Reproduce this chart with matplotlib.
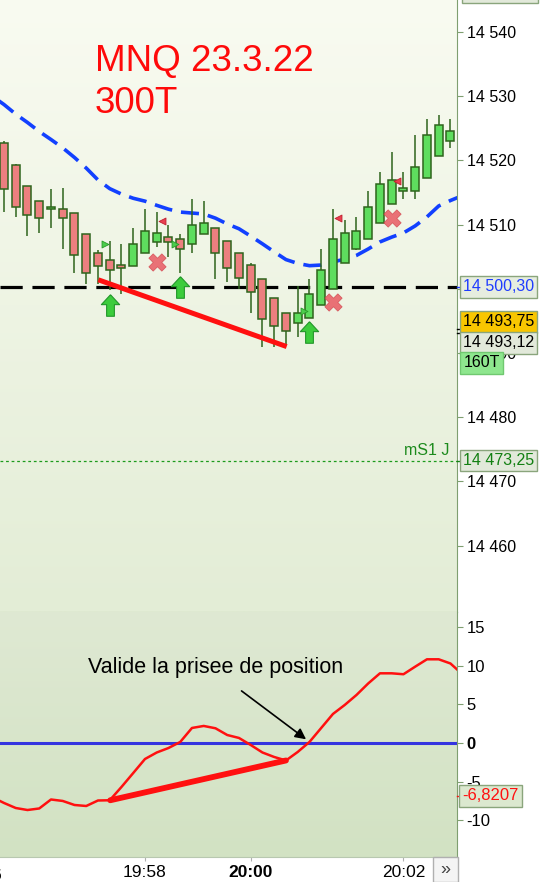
import numpy as np
import matplotlib
matplotlib.use("Agg")
import matplotlib.pyplot as plt
from matplotlib.colors import LinearSegmentedColormap
from matplotlib.path import Path
from matplotlib.patches import Rectangle

plt.rcParams['font.family'] = ['Liberation Sans', 'DejaVu Sans']
plt.rcParams['lines.scale_dashes'] = False

# candles (300 ticks)
opens = [14522.75, 14519.25, 14516.0, 14513.75, 14512.5, 14512.5, 14511.75, 14508.5, 14505.5, 14504.5,
         14503.75, 14503.5, 14505.5, 14507.25, 14508.0, 14507.75, 14507.0, 14508.5, 14509.5, 14507.5,
         14505.5, 14503.75, 14501.5, 14498.5, 14496.25, 14494.75, 14495.5, 14497.5, 14500.0, 14504.0,
         14506.25, 14507.75, 14510.25, 14513.25, 14515.25, 14515.25, 14517.25, 14520.75, 14523.0]
highs = [14523.0, 14519.5, 14516.0, 14513.75, 14515.5, 14515.75, 14511.75, 14508.5, 14506.0, 14507.5,
         14507.0, 14509.5, 14512.5, 14512.0, 14510.0, 14508.5, 14514.0, 14513.75, 14509.5, 14507.5,
         14505.5, 14504.0, 14501.5, 14498.5, 14496.25, 14500.5, 14501.5, 14506.25, 14512.5, 14510.75,
         14511.25, 14515.25, 14518.25, 14521.25, 14518.25, 14524.0, 14526.5, 14527.0, 14526.5]
lows = [14512.0, 14511.25, 14508.25, 14508.75, 14509.5, 14506.25, 14502.5, 14500.75, 14500.75, 14499.75,
        14499.25, 14503.5, 14505.5, 14506.5, 14505.0, 14502.5, 14505.5, 14508.5, 14501.5, 14501.0,
        14500.0, 14496.25, 14491.0, 14491.0, 14491.25, 14492.5, 14495.5, 14497.5, 14500.0, 14504.0,
        14506.0, 14507.75, 14510.25, 14513.25, 14514.0, 14514.0, 14517.25, 14520.75, 14522.0]
closes = [14515.5, 14512.75, 14511.5, 14511.0, 14512.75, 14511.0, 14505.25, 14502.5, 14503.5, 14503.0,
          14503.25, 14507.0, 14509.0, 14508.75, 14507.25, 14506.25, 14510.0, 14510.25, 14505.5, 14503.25,
          14501.75, 14499.5, 14495.25, 14494.25, 14493.5, 14496.25, 14499.25, 14503.0, 14507.75, 14508.75,
          14509.0, 14512.75, 14516.25, 14517.0, 14515.75, 14519.0, 14524.0, 14525.5, 14524.5]

# moving average, one value per candle plus one on each side
ma_idx = list(range(-1, 40))
ma = [14530.0, 14528.7, 14527.2, 14525.9, 14524.5, 14523.25, 14521.95, 14520.45, 14518.8, 14516.95,
      14515.6, 14514.75, 14514.1, 14513.65, 14513.0, 14512.4, 14511.95, 14511.8, 14511.65, 14511.0,
      14510.1, 14509.35, 14508.2, 14507.0, 14505.75, 14504.55, 14503.95, 14503.6, 14503.7, 14504.2,
      14504.6, 14505.2, 14506.2, 14507.3, 14508.05, 14508.7, 14509.8, 14511.2, 14512.9, 14513.75, 14514.5]

# oscillator
osc = [-7.0, -7.75, -8.4, -8.66, -8.46, -7.3, -7.49, -8.01, -8.14, -7.43, -7.4, -5.68, -3.88, -2.07,
       -1.23, -0.65, 0.13, 1.94, 2.2, 1.9, 1.03, 0.65, -0.26, -1.23, -1.81, -2.26, -1.16, 0.13, 1.94,
       3.75, 4.91, 6.2, 7.69, 9.0, 9.0, 8.88, 9.86, 10.81, 10.81, 10.27, 8.9]

# signals
up_idx = [9, 15, 26]
up_price = [14497.5, 14500.25, 14493.25]
cross_idx = [13, 28, 33]
cross_price = [14504.25, 14498.0, 14511.0]
gtri_idx = [8.6, 14.55, 25.55]
gtri_price = [14507.0, 14507.0, 14496.5]
rtri_idx = [13.45, 28.43, 33.42]
rtri_price = [14510.5, 14511.0, 14516.75]

div_price_x = [8.03, 24.06]
div_price_y = [14501.4, 14491.0]
div_osc_x = [9.04, 24.0]
div_osc_y = [-7.4, -2.26]

pivot_level = 14500.30
ms1_level = 14473.25
last_a = 14493.75
last_b = 14493.12
osc_last = -6.8207

price_ticks = [14460, 14470, 14480, 14490, 14500, 14510, 14520, 14530, 14540]
osc_ticks = [-10, -5, 0, 5, 10, 15]
time_pos = [12, 21, 34]
time_labels = ["19:58", "20:00", "20:02"]

axis_col = "#7f9f70"
edge_col = "#2e641c"

fig = plt.figure(figsize=(5.4, 8.82), dpi=100)
fig.patch.set_facecolor("white")
ax1 = fig.add_axes([0, 0.30612, 0.84722, 0.69388])
ax2 = fig.add_axes([0, 0.02834, 0.84722, 0.27778])

xlim = (-0.34, 38.6)


def gradient(ax, top, bottom):
    cmap = LinearSegmentedColormap.from_list("g", [top, bottom])
    ax.imshow(np.linspace(0, 1, 256).reshape(-1, 1), cmap=cmap, extent=[0, 1, 0, 1],
              transform=ax.transAxes, aspect='auto', zorder=0)


gradient(ax1, "#f9fbf1", "#e3edd6")
gradient(ax2, "#dfe9d3", "#d2e2c3")

# ---- price panel
n = len(opens)
idx = np.arange(n)
o = np.array(opens); c = np.array(closes)
bottoms = np.minimum(o, c)
heights = np.maximum(np.abs(c - o), 0.15)
cols = ["#5edd5e" if cc >= oo else "#ec7f7f" for oo, cc in zip(o, c)]
ax1.vlines(idx, lows, highs, color=edge_col, lw=1.1, zorder=3)
ax1.bar(idx, heights, bottom=bottoms, width=0.68, color=cols, edgecolor=edge_col, linewidth=1.1, zorder=4)

ax1.plot(ma_idx, ma, color="#1240ff", lw=2.6, dashes=(13, 6.5), zorder=2)
ax1.axhline(pivot_level, color="black", lw=2.3, dashes=(16, 7), zorder=2)
ax1.axhline(ms1_level, color="#1c9a1c", lw=0.9, dashes=(2, 2), zorder=2)
ax1.text(37.9, ms1_level + 0.4, "mS1 J", color="#1c8a1c", fontsize=11.5, ha='right', va='bottom', zorder=5)

ax1.plot(div_price_x, div_price_y, color="#ff1010", lw=3.6, solid_capstyle='butt', zorder=6)

arrow = Path([(0, 1), (0.85, 0.08), (0.36, 0.08), (0.36, -1), (-0.36, -1), (-0.36, 0.08), (-0.85, 0.08), (0, 1)])
ax1.scatter(up_idx, up_price, marker=arrow, s=15.5 ** 2, c="#3ccc3c", edgecolors="#22962a", linewidths=0.8, zorder=7)
ax1.scatter(cross_idx, cross_price, marker="X", s=12.5 ** 2, c="#e8505a", alpha=0.8, edgecolors="#d04048",
            linewidths=0.5, zorder=7)
ax1.scatter(gtri_idx, gtri_price, marker=">", s=5 ** 2, c="#4ccc4c", edgecolors="#2a9a2a", linewidths=0.6, zorder=7)
ax1.scatter(rtri_idx, rtri_price, marker="<", s=5 ** 2, c="#e84050", edgecolors="#c02030", linewidths=0.6, zorder=7)

fig.text(95 / 540, 1 - 71 / 882, "MNQ 23.3.22", color="#ff0a0a", fontsize=26.5, va='baseline', ha='left')
fig.text(95 / 540, 1 - 113 / 882, "300T", color="#ff0a0a", fontsize=26.5, va='baseline', ha='left')

ax1.set_xlim(*xlim)
ax1.set_ylim(14449.66, 14544.98)
ax1.set_xticks([])
ax1.yaxis.tick_right()
ax1.set_yticks(price_ticks, labels=[f"{v // 1000} {v % 1000:03d}" for v in price_ticks])
ax1.tick_params(axis='y', length=4, color=axis_col, pad=2.5, labelsize=11.5, labelcolor="black")
for s in ["top", "left"]:
    ax1.spines[s].set_visible(False)
ax1.spines["right"].set_color(axis_col)
ax1.spines["bottom"].set_color("#98b488")

ytr = ax1.get_yaxis_transform()
box = dict(boxstyle="square,pad=0.2", ec="#8aa57c", lw=1)


def price_label(ax, y, txt, tc, fc, x=1.012):
    ax.text(x, y, txt, transform=ax.get_yaxis_transform(), ha='left', va='center', fontsize=11.5, color=tc,
            bbox=dict(box, fc=fc), clip_on=False, zorder=10)


def fmt(v, d=2):
    s = f"{v:.{d}f}".replace(".", ",")
    whole, frac = s.split(",")
    return f"{whole[:-3]} {whole[-3:]},{frac}"


price_label(ax1, pivot_level, fmt(pivot_level), "#1f3cff", "#e6eddf")
price_label(ax1, last_a + 1.08, fmt(last_a), "black", "#f8c600")
price_label(ax1, last_b - 1.56, fmt(last_b), "black", "#e2e9da")
ax1.text(1.013, last_b - 4.67, "160T", transform=ytr, ha='left', va='center', fontsize=11.5, color="black",
         bbox=dict(boxstyle="square,pad=0.2", fc="#8ee68e", ec="#70c870", lw=1), clip_on=False, zorder=10)
price_label(ax1, ms1_level, fmt(ms1_level), "#128012", "#e2e9da")
for y, col in [(pivot_level, "#1f3cff"), (last_a, "black"), (last_b, "black"), (ms1_level, "#128012")]:
    ax1.plot([1.0, 1.01], [y, y], transform=ytr, color=col, lw=1, clip_on=False, zorder=9)

fig.patches.append(Rectangle((462 / 540, 1 - 3 / 882), 76 / 540, 10 / 882, transform=fig.transFigure,
                             fc="#e2e9da", ec="#8aa57c", lw=1))

# ---- oscillator panel
ax2.axhline(0, color="#3434e0", lw=2.2, zorder=2)
ax2.plot(ma_idx, osc, color="#ff1010", lw=1.8, zorder=3)
ax2.plot(div_osc_x, div_osc_y, color="#ff1010", lw=4.2, solid_capstyle='round', zorder=4)
ax2.annotate("", xy=(25.9, 0.26), xytext=(20.03, 6.94),
             arrowprops=dict(arrowstyle='-|>', color='black', lw=1.2, mutation_scale=16), zorder=5)
ax2.text(7.13, 9.75, "Valide la prisee de position", fontsize=15.5, ha='left', va='center', color='black', zorder=5)

ax2.set_xlim(*xlim)
ax2.set_ylim(-14.73, 16.92)
ax2.yaxis.tick_right()
ax2.set_yticks(osc_ticks, labels=[str(v) for v in osc_ticks])
ax2.tick_params(axis='y', length=4, color=axis_col, pad=2.5, labelsize=12, labelcolor="black")
for lab in ax2.get_yticklabels():
    if lab.get_text() == "0":
        lab.set_fontweight("bold")
ax2.set_xticks(time_pos, labels=time_labels)
ax2.tick_params(axis='x', length=3, color="#b0b0b0", pad=3, labelsize=12.5)
for lab in ax2.get_xticklabels():
    if lab.get_text() == "20:00":
        lab.set_fontweight("bold")
ax2.text(-2, -0.045, "19:56", transform=ax2.get_xaxis_transform(), ha='center', va='top', fontsize=12.5,
         clip_on=False)
for s in ["top", "left"]:
    ax2.spines[s].set_visible(False)
ax2.spines["right"].set_color(axis_col)
ax2.spines["bottom"].set_color("#b8c8b0")

ax2.text(1.011, osc_last, f"{osc_last:.4f}".replace(".", ","), transform=ax2.get_yaxis_transform(),
         ha='left', va='center', fontsize=12, color="#ff1010", bbox=dict(box, fc="#dbe8cf"),
         clip_on=False, zorder=10)
ax2.plot([1.0, 1.01], [osc_last, osc_last], transform=ax2.get_yaxis_transform(), color="#ff1010", lw=1,
         clip_on=False, zorder=9)

# scroll button
fig.patches.append(Rectangle((433 / 540, 0), 24.5 / 540, 25 / 882, transform=fig.transFigure,
                             fc="#f4f4f4", ec="#b0b0b0", lw=1))
fig.text(445 / 540, 12.5 / 882, "»", ha='center', va='center', fontsize=13, color="#404040")

fig.savefig("out.png", dpi=100)
